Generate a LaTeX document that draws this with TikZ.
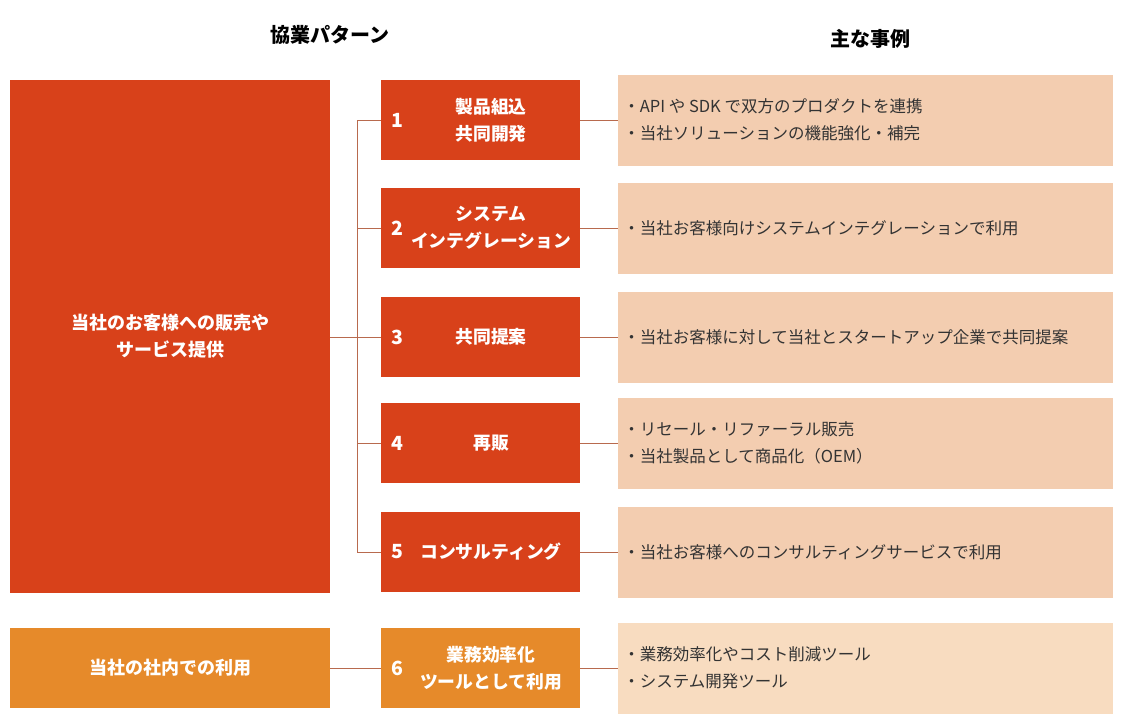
\documentclass[tikz,border=0pt]{standalone}
\usepackage{fontspec}
\setmainfont{Noto Sans CJK JP}
\usetikzlibrary{positioning}
\definecolor{mainred}{HTML}{D8411A}
\definecolor{mainorange}{HTML}{E68A2A}
\definecolor{casepeach}{HTML}{F3CDB0}
\definecolor{caselight}{HTML}{F8DCC0}
\definecolor{linkbrown}{HTML}{B86A4E}
\definecolor{casetext}{HTML}{333333}

\begin{document}
\begin{tikzpicture}[x=1pt, y=-1pt,
    bigbox/.style={rectangle, fill=#1, minimum width=320pt, text=white, font=\bfseries\fontsize{18}{27}\selectfont, align=center},
    patbox/.style={rectangle, fill=#1, minimum width=199pt, minimum height=80pt},
    pattext/.style={text=white, font=\bfseries\fontsize{17.8}{27}\selectfont, align=center},
    patnum/.style={text=white, font=\bfseries\fontsize{19.5}{27}\selectfont},
    casebox/.style={rectangle, fill=#1, minimum width=495pt, minimum height=91pt},
    casetxt/.style={anchor=west, text=casetext, font=\fontsize{16.5}{27}\selectfont, align=left},
    head/.style={font=\bfseries\fontsize{20}{24}\selectfont, text=black},
    link/.style={draw=linkbrown, line width=0.8pt}]

    \useasboundingbox (0,0) rectangle (1122,723);

    % Headers
    \node[head] (hpat) at (330,35) {協業パターン};
    \node[head] (hcase) at (870,39) {主な事例};

    % Left boxes
    \node[bigbox=mainred, minimum height=513pt] (main) at (170,336.5) {当社のお客様への販売や\\サービス提供};
    \node[bigbox=mainorange, minimum height=80pt] (inhouse) at (170,668) {当社の社内での利用};

    % Pattern and case boxes
    \foreach \i/\y/\col/\ccol/\pat/\cases in {
        1/120/mainred/casepeach/{製品組込\\共同開発}/{・API や SDK で双方のプロダクトを連携\\・当社ソリューションの機能強化・補完},
        2/228/mainred/casepeach/{システム\\インテグレーション}/{・当社お客様向けシステムインテグレーションで利用},
        3/337/mainred/casepeach/{共同提案}/{・当社お客様に対して当社とスタートアップ企業で共同提案},
        4/443/mainred/casepeach/{再販}/{・リセール・リファーラル販売\\・当社製品として商品化（OEM）},
        5/552/mainred/casepeach/{コンサルティング}/{・当社お客様へのコンサルティングサービスで利用},
        6/668/mainorange/caselight/{業務効率化\\ツールとして利用}/{・業務効率化やコスト削減ツール\\・システム開発ツール}} {
        \node[patbox=\col] (p\i) at (480.5,\y) {};
        \node[pattext] (t\i) at ([xshift=10.5pt]p\i.center) {\pat};
        \node[patnum] (n\i) at ([xshift=17pt]p\i.west) {\i};
        \node[casebox=\ccol] (c\i) at (865.5,\y) {};
        \node[casetxt] (ct\i) at ([xshift=2pt]c\i.west) {\cases};
        \draw[link] (p\i.east) -- (c\i.west);
    }

    % Connectors from the left
    \coordinate (trunk) at (357,337);
    \draw[link] (main.east |- trunk) -- (trunk);
    \draw[link] (trunk |- p1.west) -- (trunk |- p5.west);
    \foreach \i in {1,...,5} { \draw[link] (trunk |- p\i.west) -- (p\i.west); }
    \draw[link] (inhouse.east) -- (p6.west);
\end{tikzpicture}
\end{document}
